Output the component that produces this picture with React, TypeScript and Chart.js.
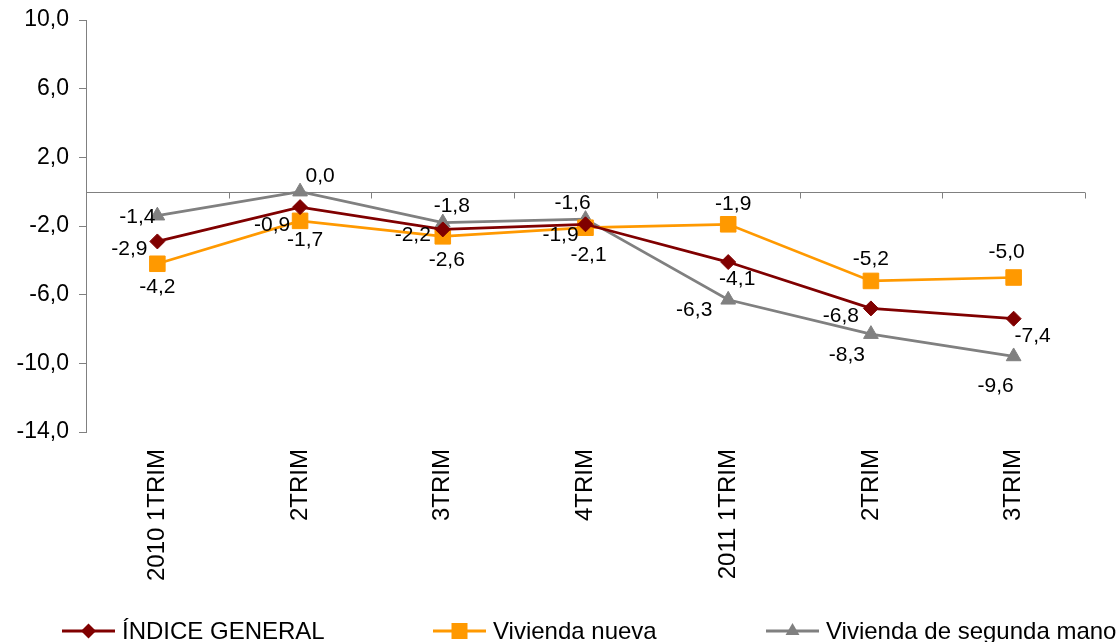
import React, { useEffect, useRef } from 'react';
import { Chart, registerables } from 'chart.js';

Chart.register(...registerables);

// ---- data ----
const categories = ['2010 1TRIM', '2TRIM', '3TRIM', '4TRIM', '2011 1TRIM', '2TRIM', '3TRIM'];
const indiceGeneral = [-2.9, -0.9, -2.2, -1.9, -4.1, -6.8, -7.4];
const viviendaNueva = [-4.2, -1.7, -2.6, -2.1, -1.9, -5.2, -5.0];
const viviendaSegunda = [-1.4, 0.0, -1.8, -1.6, -6.3, -8.3, -9.6];
const seriesNames = ['ÍNDICE GENERAL', 'Vivienda nueva', 'Vivienda de segunda mano'];
const yMin = -14;
const yMax = 10;
const yStep = 4;

// ---- styles ----
const FONT = '"Liberation Sans", Arial, sans-serif';
const COLORS = ['#800000', '#FF9900', '#808080'];
const AXIS_COLOR = '#808080';

// label offsets (dx, dy) of each value label relative to its point, per series
const LABEL_OFFSETS: number[][][] = [
  [[-28, 8], [-28, 18], [-30, 6], [-25, 11], [9, 17], [-30, 8], [19, 18]],
  [[0, 23], [5, 19], [4, 24], [3, 27], [5, -20], [0, -22], [-7, -25]],
  [[-20, 2], [20, -15], [9, -16], [-13, -16], [-34, 10], [-24, 21], [-18, 30]],
];

const fmt = (v: number) => v.toFixed(1).replace('.', ',');

function drawMarker(ctx: CanvasRenderingContext2D, kind: number, x: number, y: number) {
  ctx.beginPath();
  if (kind === 0) {
    const r = 7.5;
    ctx.moveTo(x, y - r);
    ctx.lineTo(x + r, y);
    ctx.lineTo(x, y + r);
    ctx.lineTo(x - r, y);
  } else if (kind === 1) {
    const s = 8;
    ctx.rect(x - s, y - s, 2 * s, 2 * s);
  } else {
    const r = 8;
    ctx.moveTo(x, y - r);
    ctx.lineTo(x + r * 0.866, y + r * 0.5);
    ctx.lineTo(x - r * 0.866, y + r * 0.5);
  }
  ctx.closePath();
  ctx.fill();
}

const zeroAxisPlugin = {
  id: 'zeroAxis',
  beforeDatasetsDraw(chart: any) {
    const { ctx, chartArea, scales } = chart;
    const x = scales.x;
    const y = scales.y;
    const y0 = Math.round(y.getPixelForValue(0)) + 0.5;
    ctx.save();
    ctx.strokeStyle = AXIS_COLOR;
    ctx.lineWidth = 1;
    ctx.beginPath();
    ctx.moveTo(chartArea.left, y0);
    ctx.lineTo(chartArea.right, y0);
    const n = categories.length;
    for (let i = 0; i <= n; i++) {
      let xx: number;
      if (i === 0) xx = chartArea.left;
      else if (i === n) xx = chartArea.right;
      else xx = (x.getPixelForValue(i - 1) + x.getPixelForValue(i)) / 2;
      xx = Math.round(xx) + 0.5;
      ctx.moveTo(xx, y0);
      ctx.lineTo(xx, y0 + 6);
    }
    ctx.stroke();
    ctx.restore();
  },
};

const valueLabelPlugin = {
  id: 'valueLabels',
  afterDatasetsDraw(chart: any) {
    const { ctx } = chart;
    ctx.save();
    ctx.fillStyle = '#000';
    ctx.font = `21px ${FONT}`;
    ctx.textAlign = 'center';
    ctx.textBaseline = 'middle';
    chart.data.datasets.forEach((ds: any, di: number) => {
      const meta = chart.getDatasetMeta(di);
      meta.data.forEach((pt: any, i: number) => {
        const off = LABEL_OFFSETS[di][i];
        ctx.fillText(fmt(ds.data[i]), pt.x + off[0], pt.y + off[1]);
      });
    });
    ctx.restore();
  },
};

const legendPlugin = {
  id: 'customLegend',
  afterDraw(chart: any) {
    const { ctx } = chart;
    const starts = [62, 433, 766];
    const ly = 631;
    ctx.save();
    ctx.font = `24px ${FONT}`;
    ctx.textBaseline = 'middle';
    ctx.textAlign = 'left';
    seriesNames.forEach((name, i) => {
      const sx = starts[i];
      ctx.strokeStyle = COLORS[i];
      ctx.fillStyle = COLORS[i];
      ctx.lineWidth = 3;
      ctx.beginPath();
      ctx.moveTo(sx, ly);
      ctx.lineTo(sx + 53, ly);
      ctx.stroke();
      drawMarker(ctx, i, sx + 26.5, ly);
      ctx.fillStyle = '#000';
      ctx.fillText(name, sx + 60, ly + 1);
    });
    ctx.restore();
  },
};

export default function App() {
  const canvasRef = useRef<HTMLCanvasElement | null>(null);

  useEffect(() => {
    const canvas = canvasRef.current;
    if (!canvas) return;
    const chart = new Chart(canvas, {
      type: 'line',
      data: {
        labels: categories,
        datasets: [
          {
            label: seriesNames[0],
            data: indiceGeneral,
            borderColor: COLORS[0],
            backgroundColor: COLORS[0],
            pointBackgroundColor: COLORS[0],
            pointBorderColor: COLORS[0],
            pointStyle: 'rectRot',
            pointRadius: 7.5,
            pointBorderWidth: 1,
            borderWidth: 2.75,
            tension: 0,
          },
          {
            label: seriesNames[1],
            data: viviendaNueva,
            borderColor: COLORS[1],
            backgroundColor: COLORS[1],
            pointBackgroundColor: COLORS[1],
            pointBorderColor: COLORS[1],
            pointStyle: 'rect',
            pointRadius: 11,
            pointBorderWidth: 1,
            borderWidth: 2.75,
            tension: 0,
          },
          {
            label: seriesNames[2],
            data: viviendaSegunda,
            borderColor: COLORS[2],
            backgroundColor: COLORS[2],
            pointBackgroundColor: COLORS[2],
            pointBorderColor: COLORS[2],
            pointStyle: 'triangle',
            pointRadius: 8.5,
            pointBorderWidth: 1,
            borderWidth: 2.75,
            tension: 0,
          },
        ],
      },
      options: {
        responsive: false,
        animation: false,
        layout: { padding: { left: 0, top: 20, right: 31, bottom: 0 } },
        plugins: {
          legend: { display: false },
          tooltip: { enabled: false },
        },
        scales: {
          x: {
            offset: true,
            grid: { display: false, drawTicks: false },
            border: { display: false },
            ticks: {
              autoSkip: false,
              minRotation: 90,
              maxRotation: 90,
              padding: 17,
              color: '#000',
              font: { family: FONT, size: 24 },
            },
            afterFit: (s: any) => {
              s.height = 210;
            },
          },
          y: {
            min: yMin,
            max: yMax,
            ticks: {
              stepSize: yStep,
              color: '#000',
              padding: 10,
              font: { family: FONT, size: 23 },
              callback: (v: any) => fmt(Number(v)),
            },
            grid: {
              drawOnChartArea: false,
              drawTicks: true,
              tickLength: 7,
              color: AXIS_COLOR,
              tickColor: AXIS_COLOR,
            },
            border: { color: AXIS_COLOR, width: 1 },
            afterFit: (s: any) => {
              s.width = 86;
              s.paddingTop = 0;
              s.paddingBottom = 0;
            },
          },
        },
      },
      plugins: [zeroAxisPlugin, valueLabelPlugin, legendPlugin],
    });
    return () => chart.destroy();
  }, []);

  return (
    <div style={{ position: 'absolute', left: 0, top: 0, width: 1116, height: 642, background: '#fff' }}>
      <canvas ref={canvasRef} width={1116} height={642} style={{ display: 'block' }} />
    </div>
  );
}
